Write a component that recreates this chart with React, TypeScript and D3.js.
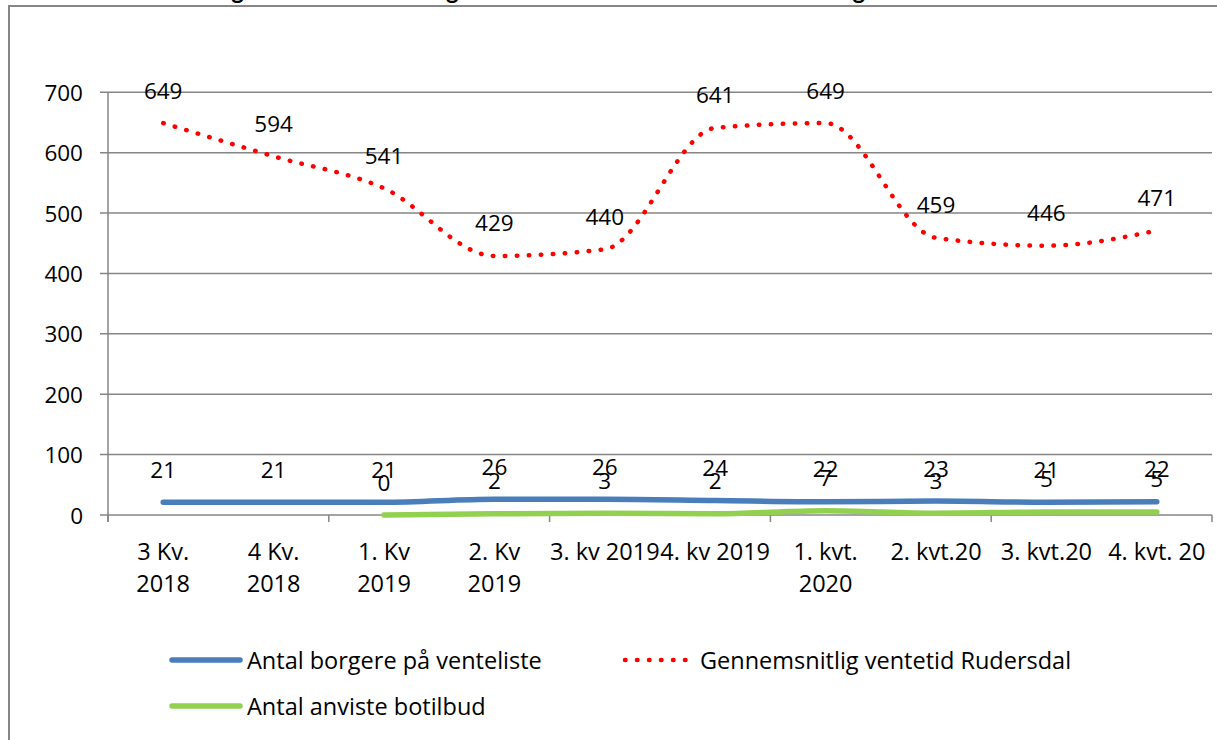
import React from "react";
import * as d3 from "d3";

const categories: string[][] = [
  ["3 Kv.", "2018"],
  ["4 Kv.", "2018"],
  ["1. Kv", "2019"],
  ["2. Kv", "2019"],
  ["3. kv 2019"],
  ["4. kv 2019"],
  ["1. kvt.", "2020"],
  ["2. kvt.20"],
  ["3. kvt.20"],
  ["4. kvt. 20"],
];
const ventetid: number[] = [649, 594, 541, 429, 440, 641, 649, 459, 446, 471];
const borgere: number[] = [21, 21, 21, 26, 26, 24, 22, 23, 21, 22];
const anviste: (number | null)[] = [null, null, 0, 2, 3, 2, 7, 3, 5, 5];
const yTicks: number[] = [0, 100, 200, 300, 400, 500, 600, 700];
const legendNames = {
  borgere: "Antal borgere på venteliste",
  ventetid: "Gennemsnitlig ventetid Rudersdal",
  anviste: "Antal anviste botilbud",
};
const title = "Udvikling i samlet ventetid og antal anviste botilbud samt antal borgere";

const W = 1217;
const H = 740;
const FONT = "'Open Sans', sans-serif";
const GRID = "#868686";
const BLUE = "#4a7ebb";
const RED = "#ff0000";
const GREEN = "#92d050";

export default function App() {
  const x0 = 108, x1 = 1212, yTop = 92.3, yBot = 515;
  const x = d3.scaleBand<number>().domain(d3.range(categories.length)).range([x0, x1]).padding(0);
  const cx = (i: number) => (x(i) as number) + x.bandwidth() / 2;
  const y = d3.scaleLinear().domain([0, 700]).range([yBot, yTop]);

  const line = d3
    .line<number | null>()
    .defined((d) => d !== null)
    .x((_, i) => cx(i))
    .y((d) => y(d as number))
    .curve(d3.curveMonotoneX);

  const labelOffset = 33;
  const fsNum = 22.5;
  const fsCat = 23.5;
  const fsLeg = 23.5;

  const boundaries = d3.range(0, categories.length + 1, 2);

  return (
    <svg
      width={W}
      height={H}
      style={{ position: "absolute", left: 0, top: 0, background: "#fff" }}
      fontFamily={FONT}
    >
      <rect x={0} y={0} width={W} height={H} fill="#fff" />
      <text x={143} y={-1} fontSize={24} fontWeight="bold" fill="#000" fontFamily="Lato, sans-serif">
        {title}
      </text>
      <rect x={9} y={6} width={W + 20} height={H + 20} fill="none" stroke={GRID} strokeWidth={2} />

      {/* gridlines */}
      {yTicks.map((t) => (
        <g key={t}>
          <line x1={100} x2={x1} y1={y(t)} y2={y(t)} stroke={GRID} strokeWidth={1.5} />
          <text
            x={83}
            y={y(t)}
            textAnchor="end"
            dominantBaseline="central"
            fontSize={fsNum}
            fill="#000"
          >
            {t}
          </text>
        </g>
      ))}
      {/* y axis */}
      <line x1={x0} x2={x0} y1={yTop} y2={yBot + 7} stroke={GRID} strokeWidth={1.5} />
      {/* x tick marks */}
      {boundaries.map((b) => {
        const px = b < categories.length ? (x(b) as number) : x1;
        return <line key={b} x1={px} x2={px} y1={yBot} y2={yBot + 7} stroke={GRID} strokeWidth={1.5} />;
      })}
      {/* category labels */}
      {categories.map((c, i) => (
        <text key={i} x={cx(i)} textAnchor="middle" fontSize={fsCat} fill="#000">
          {c.map((l, j) => (
            <tspan key={j} x={cx(i)} y={551 + j * 32} dominantBaseline="central">
              {l}
            </tspan>
          ))}
        </text>
      ))}

      {/* series */}
      <path d={line(borgere) || ""} fill="none" stroke={BLUE} strokeWidth={5.5} strokeLinecap="round" />
      <path d={line(anviste) || ""} fill="none" stroke={GREEN} strokeWidth={5.5} strokeLinecap="round" />
      <path
        d={line(ventetid) || ""}
        fill="none"
        stroke={RED}
        strokeWidth={4.5}
        strokeLinecap="round"
        strokeDasharray="0.5 11.5"
      />

      {/* data labels */}
      {ventetid.map((v, i) => (
        <text key={"v" + i} x={cx(i)} y={y(v) - labelOffset} textAnchor="middle" dominantBaseline="central" fontSize={fsNum} fill="#000">
          {v}
        </text>
      ))}
      {borgere.map((v, i) => (
        <text key={"b" + i} x={cx(i)} y={y(v) - labelOffset} textAnchor="middle" dominantBaseline="central" fontSize={fsNum} fill="#000">
          {v}
        </text>
      ))}
      {anviste.map((v, i) =>
        v === null ? null : (
          <text key={"a" + i} x={cx(i)} y={y(v) - labelOffset} textAnchor="middle" dominantBaseline="central" fontSize={fsNum} fill="#000">
            {v}
          </text>
        )
      )}

      {/* legend */}
      <g>
        <line x1={172} x2={240} y1={660} y2={660} stroke={BLUE} strokeWidth={5.5} strokeLinecap="round" />
        <text x={247} y={660} dominantBaseline="central" fontSize={fsLeg} fill="#000">
          {legendNames.borgere}
        </text>
        <line x1={625} x2={690} y1={660} y2={660} stroke={RED} strokeWidth={4.5} strokeLinecap="round" strokeDasharray="0.5 11.5" />
        <text x={700} y={660} dominantBaseline="central" fontSize={fsLeg} fill="#000">
          {legendNames.ventetid}
        </text>
        <line x1={172} x2={240} y1={706} y2={706} stroke={GREEN} strokeWidth={5.5} strokeLinecap="round" />
        <text x={247} y={706} dominantBaseline="central" fontSize={fsLeg} fill="#000">
          {legendNames.anviste}
        </text>
      </g>
    </svg>
  );
}
